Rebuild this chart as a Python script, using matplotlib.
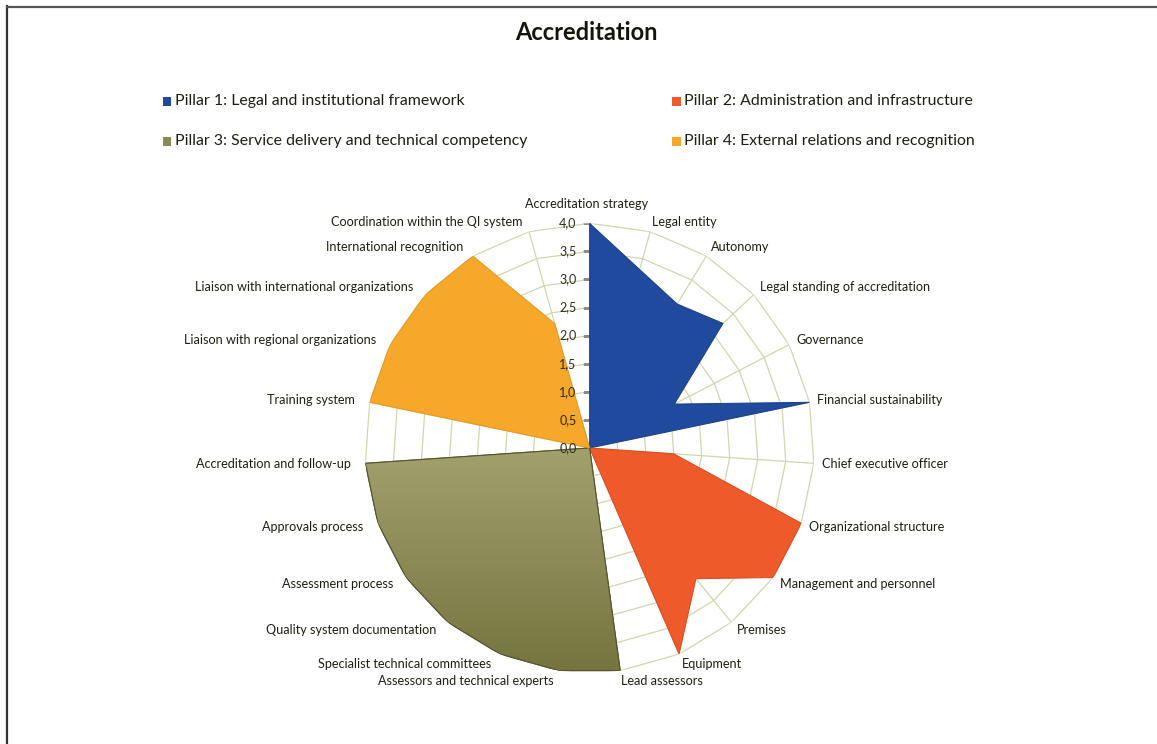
import numpy as np
import matplotlib
matplotlib.use("Agg")
import matplotlib.pyplot as plt
from matplotlib.patches import Rectangle
from matplotlib.lines import Line2D
from matplotlib.image import BboxImage
from matplotlib.colors import LinearSegmentedColormap

plt.rcParams['font.family'] = ['Lato', 'DejaVu Sans']

# ── Daten ──────────────────────────────────────────────────────────
categories = [
    "Accreditation strategy", "Legal entity", "Autonomy",
    "Legal standing of accreditation", "Governance", "Financial sustainability",
    "Chief executive officer", "Organizational structure",
    "Management and personnel", "Premises", "Equipment",
    "Lead assessors", "Assessors and technical experts",
    "Specialist technical committees", "Quality system documentation",
    "Assessment process", "Approvals process", "Accreditation and follow-up",
    "Training system", "Liaison with regional organizations",
    "Liaison with international organizations", "International recognition",
    "Coordination within the QI system",
]
scores = [4.0, 3.3, 3.0, 3.25, 1.7, 4.0,
          1.5, 4.0, 4.0, 3.0, 4.0,
          4.0, 4.0, 4.0, 4.0, 4.0, 4.0, 4.0,
          4.0, 4.0, 4.0, 4.0, 2.3]
pillar_of = [1] * 6 + [2] * 5 + [3] * 7 + [4] * 5
pillar_names = [
    "Pillar 1: Legal and institutional framework",
    "Pillar 2: Administration and infrastructure",
    "Pillar 3: Service delivery and technical competency",
    "Pillar 4: External relations and recognition",
]
pillar_colors = ["#1f4a9e", "#ef5a2b", "#8b8a57", "#f5a82a"]
pillar_edges = ["#1a3f88", "#d9481c", "#55532e", "#e8961a"]
r_ticks = [0.0, 0.5, 1.0, 1.5, 2.0, 2.5, 3.0, 3.5, 4.0]

W, H = 1157, 744
fig = plt.figure(figsize=(W / 100, H / 100), dpi=100, facecolor="white")
txt_col = "#1e1e12"

# Rahmen links und oben
fig.add_artist(Line2D([7 / W, 7 / W], [0, 1 - 6 / H], color="#333333", lw=1.6))
fig.add_artist(Line2D([7 / W, 1], [1 - 6.5 / H, 1 - 6.5 / H], color="#555555", lw=1.6))

fig.text(586 / W, 1 - 32 / H, "Accreditation", ha="center", va="center",
         fontsize=17, fontweight="bold", color="#15150c")

# ── Legende (zwei Spalten) ─────────────────────────────────────────
leg_pos = [(163, 101), (672, 101), (163, 141), (672, 141)]
for (x, y), name, col in zip(leg_pos, pillar_names, pillar_colors):
    fig.patches.append(Rectangle((x / W, 1 - (y + 4.5) / H), 8.5 / W, 9 / H,
                                 transform=fig.transFigure, facecolor=col,
                                 edgecolor="none"))
    fig.text((x + 12) / W, 1 - y / H, name, ha="left", va="center",
             fontsize=11.4, color=txt_col)

# ── Netzdiagramm ───────────────────────────────────────────────────
cx, cy, R = 589.6, 448, 224.7
ax = fig.add_axes([(cx - R) / W, (H - cy - R) / H, 2 * R / W, 2 * R / H],
                  projection="polar")
ax.set_theta_zero_location("N")
ax.set_theta_direction(-1)
ax.set_ylim(0, 4)
ax.grid(False)
ax.set_xticks([])
ax.set_yticks([])
ax.spines["polar"].set_visible(False)
ax.patch.set_alpha(0)

n = len(categories)
theta = np.arange(n) * 2 * np.pi / n
theta_c = np.append(theta, theta[0])

grid_col = "#d3d5ad"
for r in r_ticks[1:]:
    ax.plot(theta_c, [r] * (n + 1), color=grid_col, lw=0.9, zorder=1)
for t in theta:
    ax.plot([t, t], [0, 4], color=grid_col, lw=0.9, zorder=1)

for k in range(4):
    vals = [s if p == k + 1 else 0.0 for s, p in zip(scores, pillar_of)]
    vals.append(vals[0])
    patch = ax.fill(theta_c, vals, facecolor=pillar_colors[k],
                    edgecolor=pillar_edges[k], lw=0.7, zorder=2 + k)[0]
    if k == 2:
        # Pillar 3 mit Farbverlauf (oben heller, unten dunkler)
        grad_cmap = LinearSegmentedColormap.from_list(
            "olive", ["#76743f", "#a2a16e", "#b3b281"])
        grad = BboxImage(ax.bbox, cmap=grad_cmap, interpolation="bilinear",
                         zorder=2 + k + 0.3)
        grad.set_data(np.linspace(0, 1, 64).reshape(-1, 1)[::-1] * np.ones((1, 4)))
        grad.set_clip_path(patch)
        ax.add_artist(grad)
        ax.plot(theta_c, vals, color=pillar_edges[k], lw=0.8, zorder=2 + k + 0.5)

# Größenachse mit Teilstrichen
ax.plot([0, 0], [0, 4], color="#8c8c8c", lw=0.8, zorder=1)
ax.plot([0] * len(r_ticks), r_ticks, ls="none", marker=0, markersize=5,
        color="#8c8c8c", zorder=1)
for r in r_ticks:
    ax.annotate(f"{r:.1f}".replace(".", ","), xy=(0, r), xytext=(-13, 0),
                textcoords="offset pixels", ha="right", va="center",
                fontsize=9, color="#2c2c1c", zorder=10)

# Kategorienbeschriftungen
for t, name in zip(theta, categories):
    s, c = np.sin(t), np.cos(t)
    if s > 0.05:
        ha, dx, dy = "left", 8 * s, 10.5 * c
    elif s < -0.05:
        ha, dx, dy = "right", -(4 + 11 * abs(s)), 10.5 * c
    else:
        ha, dx, dy = "center", -3, 19 * c
    ax.annotate(name, xy=(t, 4.0), xytext=(dx, dy), textcoords="offset pixels",
                ha=ha, va="center", fontsize=9.1, color=txt_col,
                annotation_clip=False)

fig.savefig("out.png", dpi=100, facecolor="white")
